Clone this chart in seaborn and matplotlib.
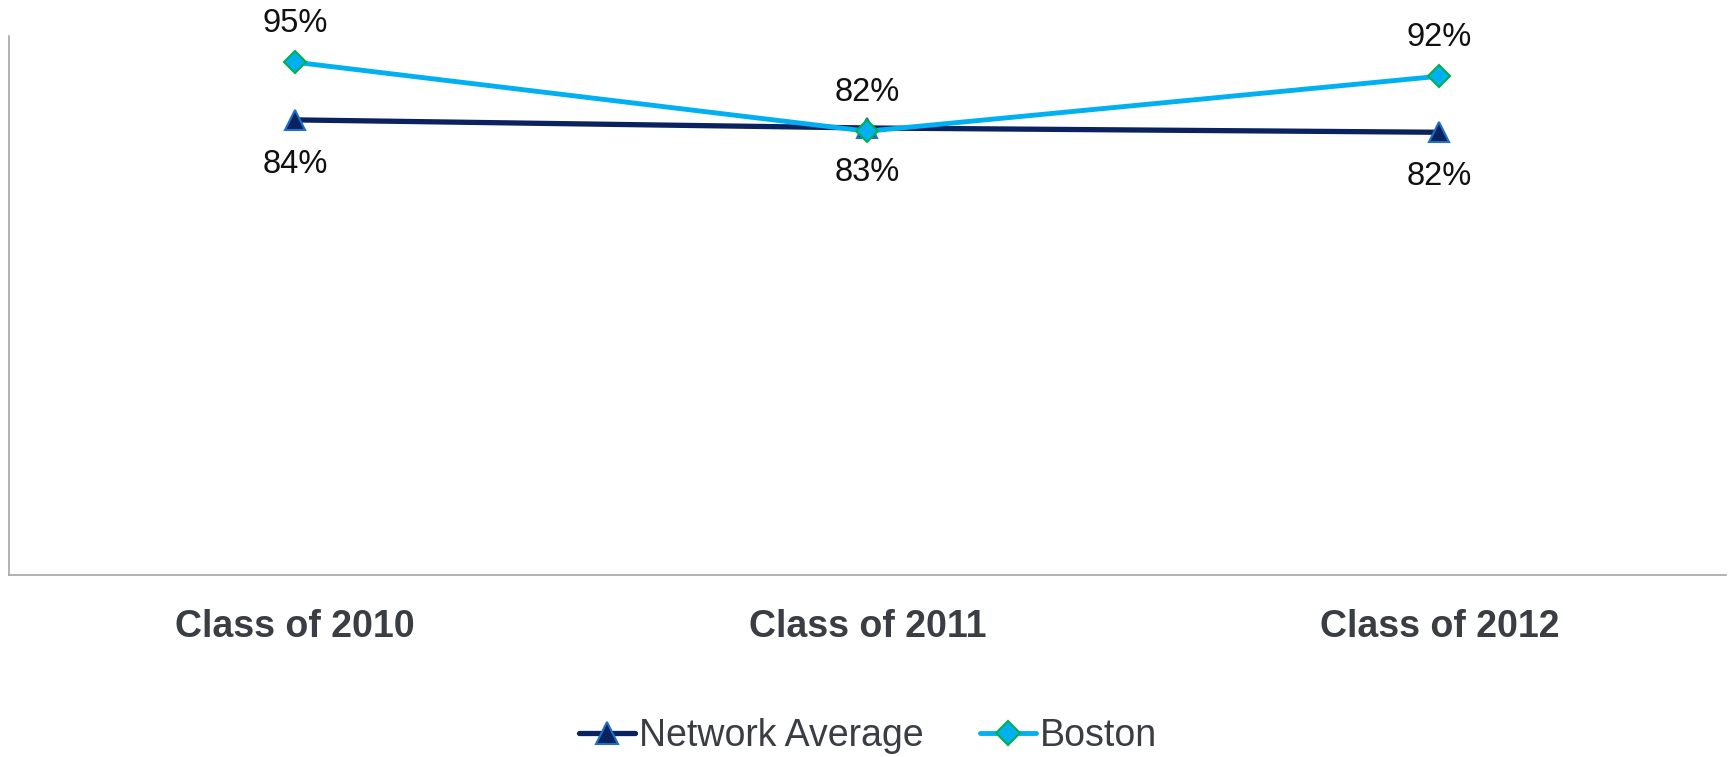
import numpy as np
import pandas as pd
import seaborn as sns
import matplotlib.pyplot as plt

# Values
classes = ["Class of 2010", "Class of 2011", "Class of 2012"]
network_avg = [84.5, 83.0, 82.2]
boston = [95.2, 82.4, 92.6]
network_labels = ["84%", "83%", "82%"]
boston_labels = ["95%", "82%", "92%"]


def main():
    sns.set_style("white")
    plt.rcParams["font.family"] = ["Liberation Sans", "DejaVu Sans"]

    df = pd.DataFrame({
        "class": classes * 2,
        "value": network_avg + boston,
        "series": ["Network Average"] * 3 + ["Boston"] * 3,
    })

    fig = plt.figure(figsize=(17.29, 7.57), dpi=100)
    ax = fig.add_axes([0.0052, 0.240, 0.9928, 0.712])

    sns.lineplot(x="class", y="value",
                 data=df[df["series"] == "Network Average"],
                 color="#0b2260", linewidth=3.8, marker="^", markersize=14,
                 markerfacecolor="#0b2260", markeredgecolor="#1f6fc4",
                 markeredgewidth=1.5, label="Network Average", ax=ax,
                 sort=False)
    sns.lineplot(x="class", y="value",
                 data=df[df["series"] == "Boston"],
                 color="#00b0f0", linewidth=3.5, marker="D", markersize=11,
                 markerfacecolor="#00b0f0", markeredgecolor="#00b050",
                 markeredgewidth=1.5, label="Boston", ax=ax, sort=False)

    for i, (v, lab) in enumerate(zip(network_avg, network_labels)):
        ax.annotate(lab, (i, v), xytext=(0, -32), textcoords="offset points",
                    ha="center", va="center", fontsize=23.5, color="#111111")
    for i, (v, lab) in enumerate(zip(boston, boston_labels)):
        ax.annotate(lab, (i, v), xytext=(0, 28), textcoords="offset points",
                    ha="center", va="center", fontsize=23.5, color="#111111")

    ax.set_xlim(-0.5, 2.5)
    ax.set_ylim(0, 100)
    ax.set_yticks([])
    ax.set(xlabel=None, ylabel=None)
    ax.tick_params(axis="x", length=0, pad=24.5, labelsize=27,
                   labelcolor="#3a3e44")
    for t in ax.get_xticklabels():
        t.set_fontweight("bold")

    for side in ["top", "right"]:
        ax.spines[side].set_visible(False)
    for side in ["left", "bottom"]:
        ax.spines[side].set_color("#a6a6a6")
        ax.spines[side].set_linewidth(1.2)

    handles, labels = ax.get_legend_handles_labels()
    ax.get_legend().remove()
    fig.legend(handles, labels, loc="center", bbox_to_anchor=(0.502, 0.028),
               ncol=2, frameon=False, fontsize=27, handlelength=1.5,
               handletextpad=0.1, columnspacing=1.5, labelcolor="#3a3e44",
               markerscale=1.15)

    fig.savefig("out.png", dpi=100)


if __name__ == "__main__":
    main()
